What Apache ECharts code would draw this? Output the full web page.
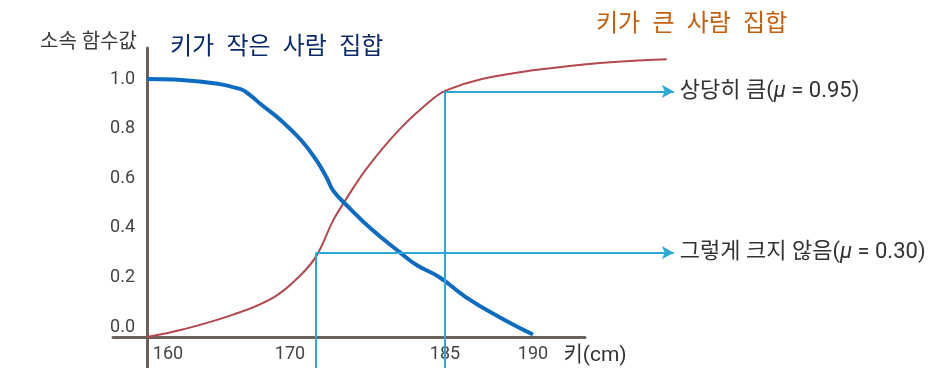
<!DOCTYPE html>
<html lang="ko">
<head>
<meta charset="UTF-8">
<title>소속 함수</title>
<script src="https://cdn.jsdelivr.net/npm/echarts@6/dist/echarts.min.js"></script>
</head>
<body style="margin:0">
<div id="main" style="width:942px;height:368px"></div>
<script>
// 키(cm) 눈금
var tickCm = [160, 170, 185, 190];
var yTicks = [0, 0.2, 0.4, 0.6, 0.8, 1.0];

// 키가 작은 사람 집합
var shortCm = [160, 163.1, 165.5, 166.1, 166.7, 167.9, 169.1, 170.0, 171.2, 172.0, 173.6, 176.6, 179.8, 181.7, 184.4, 186.2, 188.1, 190];
var shortMu = [1.00, 0.99, 0.96, 0.935, 0.90, 0.835, 0.755, 0.675, 0.605, 0.55, 0.49, 0.39, 0.30, 0.25, 0.20, 0.12, 0.04, -0.03];

// 키가 큰 사람 집합
var tallCm = [160, 162.1, 165.1, 167.5, 169.1, 170.1, 172.0, 173.4, 175.9, 179.8, 183.6, 185.1, 187.1, 190, 193.8, 197.6];
var tallMu = [-0.04, -0.01, 0.05, 0.12, 0.21, 0.29, 0.43, 0.51, 0.64, 0.80, 0.92, 0.955, 1.0, 1.035, 1.065, 1.08];

// 표시한 두 점
var markCm = [185, 170];
var markMu = [0.95, 0.30];
var markName = ['상당히 큼', '그렇게 크지 않음'];

// 그림의 가로축은 균등하지 않다: 눈금이 y축에서 떨어진 거리(px)
var tickPos = [0, 169, 298, 386];
var arrowEndCm = 198;
var yMin = -0.165, yMax = 1.125;

function pos(cm) {
    var i = 0;
    while (i < tickCm.length - 2 && cm > tickCm[i + 1]) i++;
    var k = (tickPos[i + 1] - tickPos[i]) / (tickCm[i + 1] - tickCm[i]);
    return tickPos[i] + (cm - tickCm[i]) * k;
}
function pairs(xs, ys) {
    return xs.map(function (x, i) { return [pos(x), ys[i]]; });
}

var KR = "Roboto, 'Noto Sans CJK KR', sans-serif";
var axisColor = '#6e6058';
var cyan = '#2aa9d8';
var gap = '\u2002';

var markLines = [];
markCm.forEach(function (c, i) {
    markLines.push([{ coord: [pos(c), yMin] }, { coord: [pos(c), markMu[i]] }]);
    markLines.push([
        { coord: [pos(c), markMu[i]] },
        {
            coord: [pos(arrowEndCm), markMu[i]],
            symbol: 'arrow',
            label: {
                show: true,
                position: 'end',
                distance: 6,
                formatter: '{t|' + markName[i] + '(}{m|μ}{t| = ' + markMu[i].toFixed(2) + ')}',
                rich: {
                    t: { fontSize: 22, color: '#333', fontFamily: KR },
                    m: { fontSize: 22, color: '#333', fontFamily: KR, fontStyle: 'italic' }
                }
            }
        }
    ]);
});

var chart = echarts.init(document.getElementById('main'));
chart.setOption({
    animation: false,
    title: [
        {
            text: '키가' + gap + '작은' + gap + '사람' + gap + '집합', left: 170, top: 36, padding: 0,
            textStyle: { fontSize: 24, lineHeight: 24, fontWeight: 'normal', color: '#0d2a6b', fontFamily: KR }
        },
        {
            text: '키가' + gap + '큰' + gap + '사람' + gap + '집합', left: 596, top: 13, padding: 0,
            textStyle: { fontSize: 24, lineHeight: 24, fontWeight: 'normal', color: '#c65f0c', fontFamily: KR }
        }
    ],
    grid: [
        { left: 113, right: 252, top: 48, bottom: 0 },
        { left: 113, right: 357, top: 300, bottom: 31 }
    ],
    xAxis: [
        {
            gridIndex: 0, type: 'value', min: 113 - 147, max: 690 - 147,
            axisLine: { show: false }, axisTick: { show: false },
            axisLabel: { show: false }, splitLine: { show: false }
        },
        {
            gridIndex: 1, type: 'value', min: 113 - 147, max: 585 - 147,
            axisLine: { onZero: false, lineStyle: { color: axisColor, width: 3 } },
            axisTick: { show: false },
            splitLine: { show: false },
            name: '키(cm)',
            nameLocation: 'end',
            nameGap: 10,
            nameTextStyle: {
                fontSize: 21, color: '#333', fontFamily: KR,
                align: 'center', verticalAlign: 'top', padding: [8, 0, 0, 0]
            },
            axisLabel: {
                customValues: tickCm.map(pos),
                margin: 9,
                formatter: function (v) {
                    var i = tickCm.map(pos).indexOf(v);
                    var style = ['a', 'b', 'c', 'c'][i];
                    return '{' + style + '|' + tickCm[i] + '}';
                },
                rich: {
                    a: { fontSize: 18, color: '#444', fontFamily: KR, padding: [0, 0, 0, 42] },
                    b: { fontSize: 18, color: '#444', fontFamily: KR, padding: [0, 52, 0, 0] },
                    c: { fontSize: 18, color: '#444', fontFamily: KR }
                }
            }
        }
    ],
    yAxis: [
        {
            gridIndex: 0, type: 'value', min: yMin, max: yMax,
            axisLine: { show: true, onZero: true, lineStyle: { color: axisColor, width: 3 } },
            axisTick: { show: false },
            splitLine: { show: false },
            axisLabel: {
                customValues: yTicks,
                margin: -22,
                fontSize: 18, color: '#444', fontFamily: KR,
                formatter: function (v) { return v.toFixed(1); }
            },
            name: '소속 함수값',
            nameLocation: 'end',
            nameGap: 5,
            nameTextStyle: {
                fontSize: 20, color: '#3a3a3a', fontFamily: KR,
                align: 'right', verticalAlign: 'middle', padding: [0, 10, 0, 0]
            }
        },
        { gridIndex: 1, show: false }
    ],
    series: [
        {
            name: '키가 큰 사람 집합',
            type: 'line',
            xAxisIndex: 0, yAxisIndex: 0,
            data: pairs(tallCm, tallMu),
            smooth: 0.4,
            showSymbol: false,
            lineStyle: { color: '#b4474f', width: 2 },
            z: 3
        },
        {
            name: '키가 작은 사람 집합',
            type: 'line',
            xAxisIndex: 0, yAxisIndex: 0,
            data: pairs(shortCm, shortMu),
            smooth: 0.45,
            showSymbol: false,
            lineStyle: { color: '#0b6cc1', width: 4 },
            z: 4
        },
        {
            type: 'line',
            xAxisIndex: 0, yAxisIndex: 0,
            data: [],
            markLine: {
                silent: true,
                symbol: ['none', 'none'],
                symbolSize: [10, 12],
                label: { show: false },
                lineStyle: { color: cyan, width: 2, type: 'solid' },
                data: markLines
            },
            z: 2
        }
    ]
});
</script>
</body>
</html>
